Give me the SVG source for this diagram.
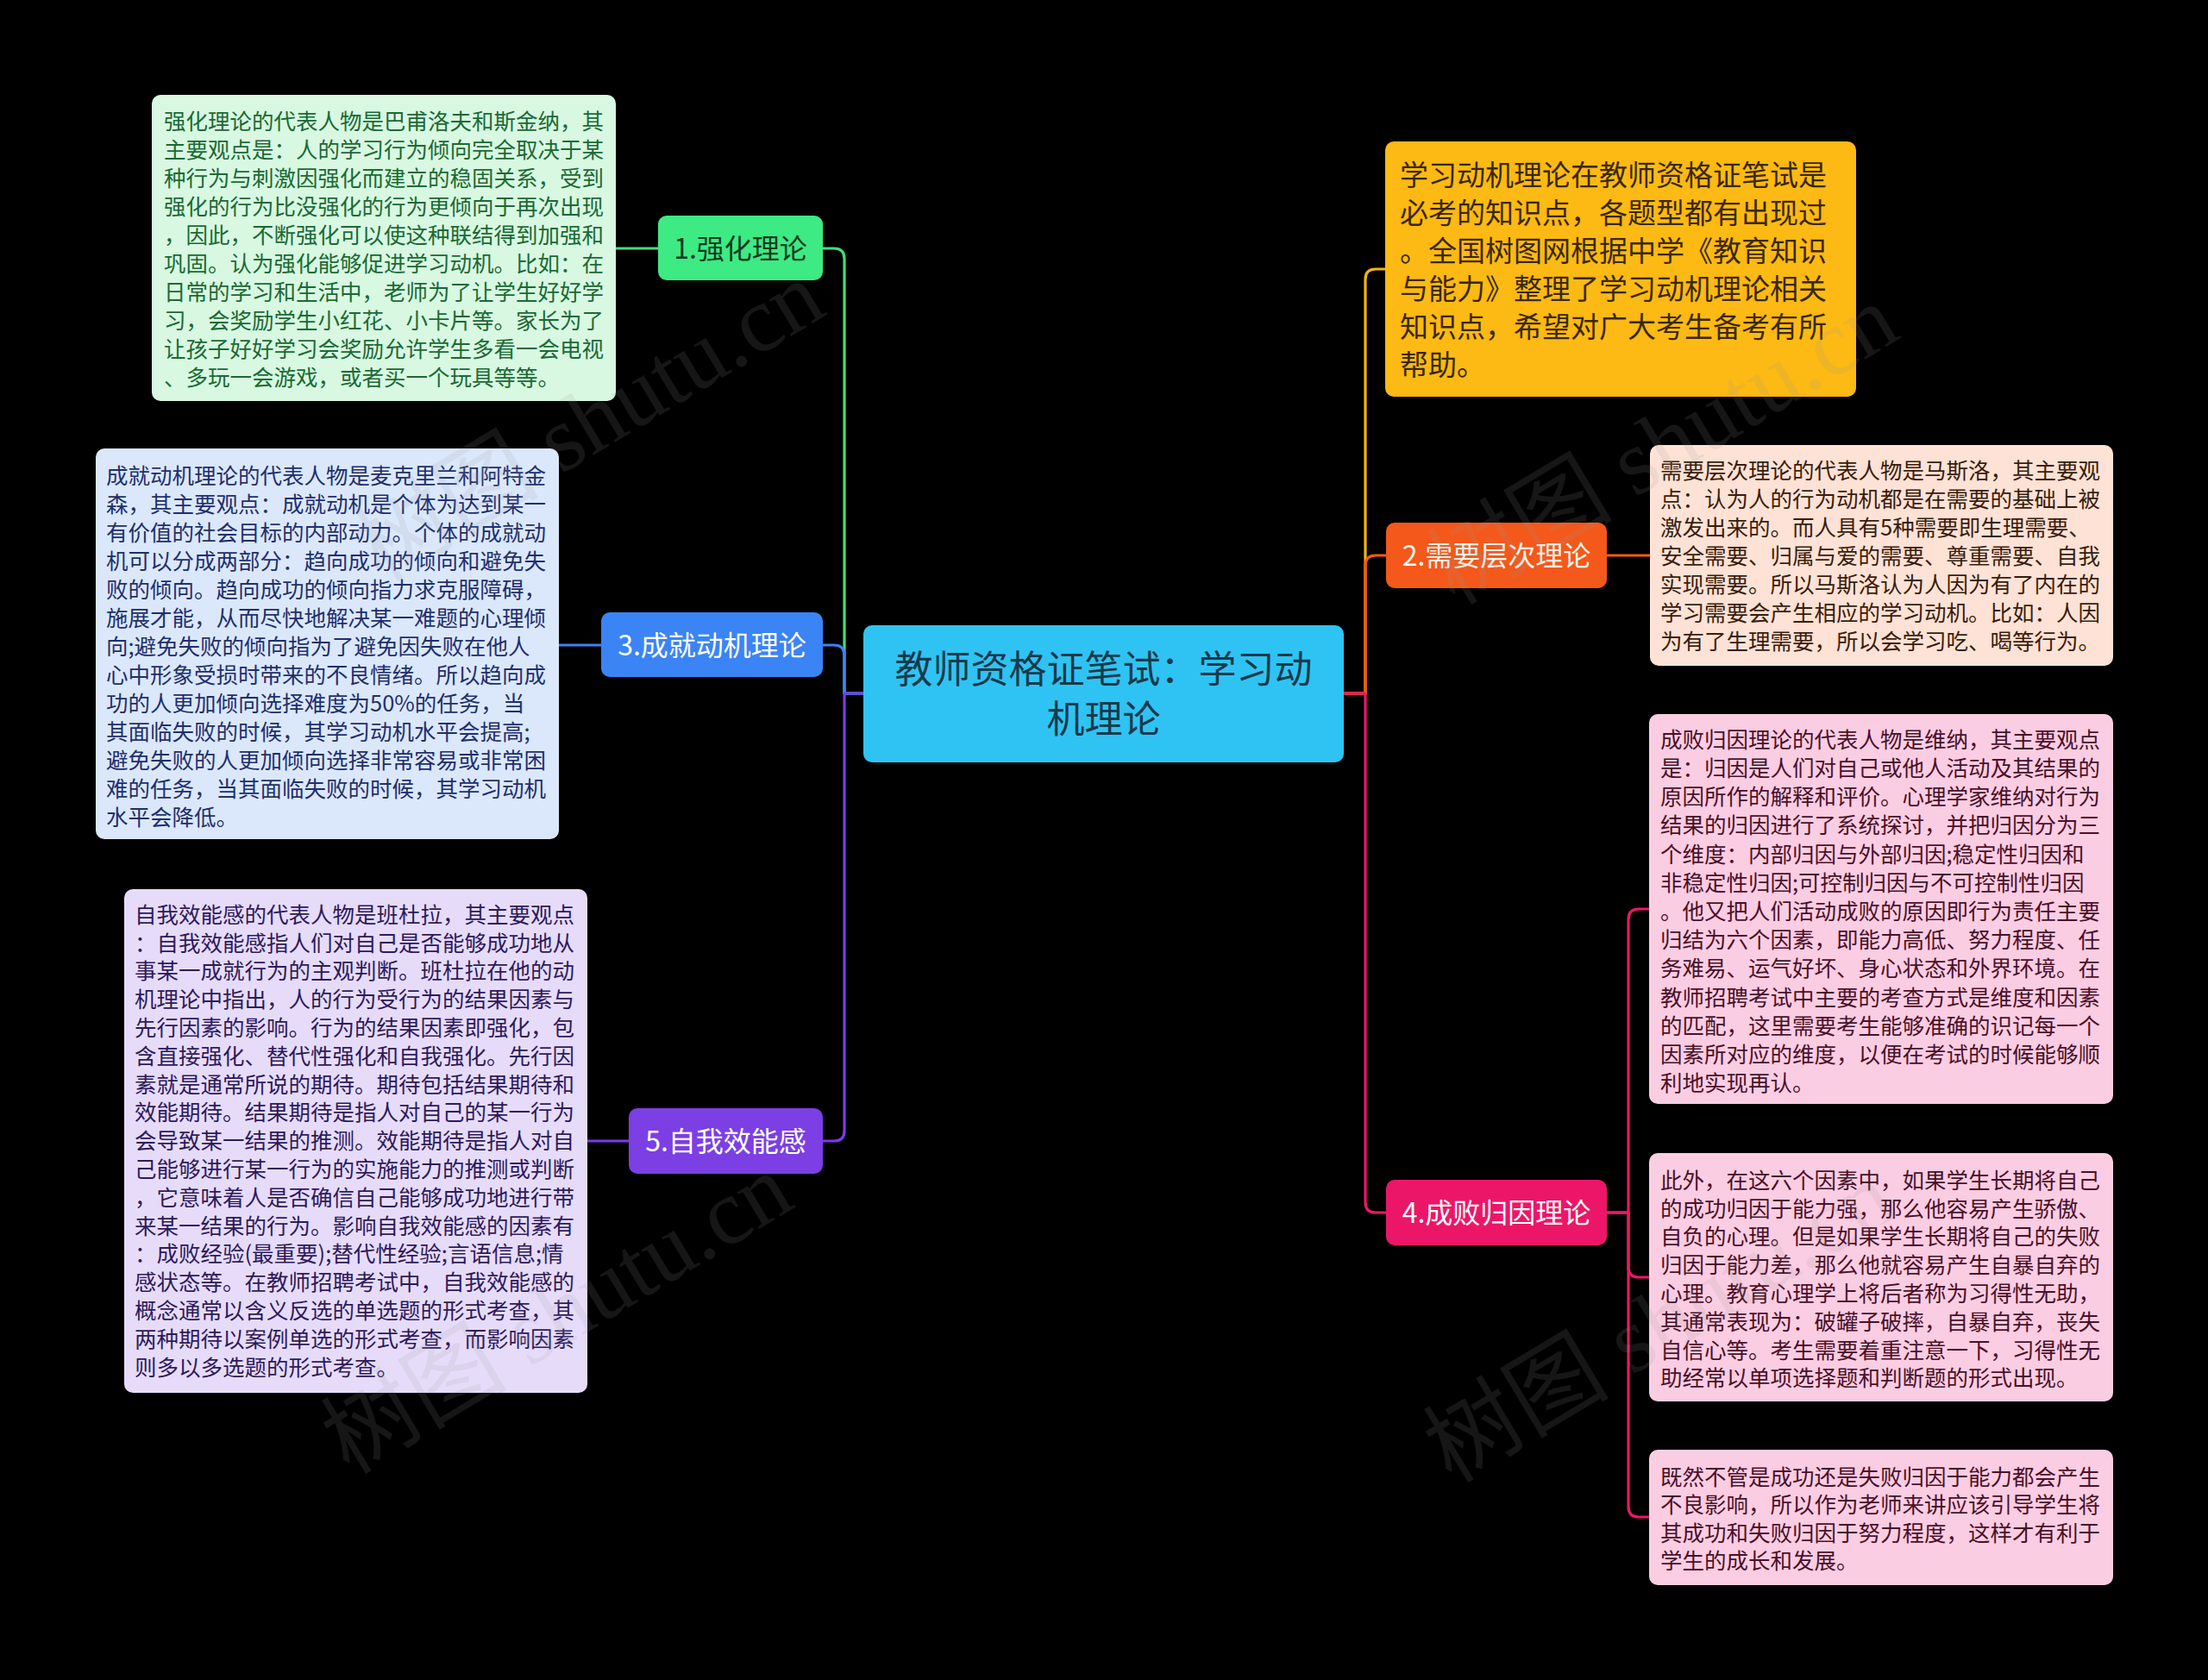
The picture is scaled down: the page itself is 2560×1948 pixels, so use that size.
<svg xmlns="http://www.w3.org/2000/svg" width="2560" height="1948" viewBox="0 0 2560 1948">
<defs>
<style>
.conn{fill:none;stroke-width:3.2;stroke-linecap:round;stroke-linejoin:round}
text{font-family:'Noto Sans CJK SC','Noto Sans',sans-serif}
.t{font-size:25.5px}
.lbl{font-size:32px;text-anchor:middle}
.wm{font-family:'Liberation Serif','Noto Sans CJK SC',serif;font-size:108px;fill:#9a9a9a;opacity:0.14;text-anchor:middle}
</style>
</defs>
<rect x="0" y="0" width="2560" height="1948" fill="#000000"/>

<g id="connectors">
<path class="conn" stroke="#3ee07c" d="M1001,804 H979 V300 Q979,288 967,288 H954"/>
<path class="conn" stroke="#3b82f6" d="M1001,804 H979 V760 Q979,748 967,748 H954"/>
<path class="conn" stroke="#7c3aed" d="M1001,804 H979 V1311 Q979,1323 967,1323 H954"/>
<path class="conn" stroke="#f6b50e" d="M1558,804 H1583 V324 Q1583,312 1595,312 H1606"/>
<path class="conn" stroke="#f45a17" d="M1558,804 H1583 V656 Q1583,644 1595,644 H1607"/>
<path class="conn" stroke="#ec1769" d="M1558,804 H1583 V1394 Q1583,1406 1595,1406 H1607"/>
<path class="conn" stroke="#3ee07c" d="M763,288 H714"/>
<path class="conn" stroke="#3b82f6" d="M697,748 H648"/>
<path class="conn" stroke="#7c3aed" d="M729,1323 H681"/>
<path class="conn" stroke="#f45a17" d="M1863,644 H1913"/>
<path class="conn" stroke="#ec1769" d="M1863,1406 H1888 V1066 Q1888,1054 1900,1054 H1912"/>
<path class="conn" stroke="#ec1769" d="M1863,1406 H1888 V1469 Q1888,1481 1900,1481 H1912"/>
<path class="conn" stroke="#ec1769" d="M1863,1406 H1888 V1747 Q1888,1759 1900,1759 H1912"/>
</g>

<g id="node-root">
<rect x="1001" y="725" width="557" height="159" rx="10" fill="#2fc3f3"/>
<text font-size="44" fill="#173a4b" text-anchor="middle"><tspan x="1279.5" y="792">教师资格证笔试：学习动</tspan><tspan x="1279.5" y="850">机理论</tspan></text>
</g>

<g id="node-1">
<rect x="763" y="250" width="191" height="75" rx="10" fill="#3eea83"/>
<text class="lbl" fill="#0f3a1f" x="858.5" y="300">1.强化理论</text>
</g>
<g id="node-1-text">
<rect x="176" y="110" width="538" height="355" rx="10" fill="#d8f8e2"/>
<text class="t" fill="#1a6a33">
<tspan x="190" y="149.7">强化理论的代表人物是巴甫洛夫和斯金纳，其</tspan>
<tspan x="190" y="182.7">主要观点是：人的学习行为倾向完全取决于某</tspan>
<tspan x="190" y="215.7">种行为与刺激因强化而建立的稳固关系，受到</tspan>
<tspan x="190" y="248.7">强化的行为比没强化的行为更倾向于再次出现</tspan>
<tspan x="190" y="281.7">，因此，不断强化可以使这种联结得到加强和</tspan>
<tspan x="190" y="314.7">巩固。认为强化能够促进学习动机。比如：在</tspan>
<tspan x="190" y="347.7">日常的学习和生活中，老师为了让学生好好学</tspan>
<tspan x="190" y="380.7">习，会奖励学生小红花、小卡片等。家长为了</tspan>
<tspan x="190" y="413.7">让孩子好好学习会奖励允许学生多看一会电视</tspan>
<tspan x="190" y="446.7">、多玩一会游戏，或者买一个玩具等等。</tspan>
</text>
</g>

<g id="node-3">
<rect x="697" y="710" width="257" height="75" rx="10" fill="#3b84f5"/>
<text class="lbl" fill="#ffffff" x="825.5" y="760">3.成就动机理论</text>
</g>
<g id="node-3-text">
<rect x="111" y="520" width="537" height="453" rx="10" fill="#dbe8fb"/>
<text class="t" fill="#1f2f6e">
<tspan x="123" y="561.4">成就动机理论的代表人物是麦克里兰和阿特金</tspan>
<tspan x="123" y="594.4">森，其主要观点：成就动机是个体为达到某一</tspan>
<tspan x="123" y="627.4">有价值的社会目标的内部动力。个体的成就动</tspan>
<tspan x="123" y="660.4">机可以分成两部分：趋向成功的倾向和避免失</tspan>
<tspan x="123" y="693.4">败的倾向。趋向成功的倾向指力求克服障碍，</tspan>
<tspan x="123" y="726.4">施展才能，从而尽快地解决某一难题的心理倾</tspan>
<tspan x="123" y="759.4">向;避免失败的倾向指为了避免因失败在他人</tspan>
<tspan x="123" y="792.4">心中形象受损时带来的不良情绪。所以趋向成</tspan>
<tspan x="123" y="825.4">功的人更加倾向选择难度为50%的任务，当</tspan>
<tspan x="123" y="858.4">其面临失败的时候，其学习动机水平会提高;</tspan>
<tspan x="123" y="891.4">避免失败的人更加倾向选择非常容易或非常困</tspan>
<tspan x="123" y="924.4">难的任务，当其面临失败的时候，其学习动机</tspan>
<tspan x="123" y="957.4">水平会降低。</tspan>
</text>
</g>

<g id="node-5">
<rect x="729" y="1285" width="225" height="76" rx="10" fill="#7b3fe4"/>
<text class="lbl" fill="#ffffff" x="841.5" y="1335">5.自我效能感</text>
</g>
<g id="node-5-text">
<rect x="144" y="1031" width="537" height="584" rx="10" fill="#e6dcfa"/>
<text class="t" fill="#2e1a5c">
<tspan x="156" y="1069.7">自我效能感的代表人物是班杜拉，其主要观点</tspan>
<tspan x="156" y="1102.5">：自我效能感指人们对自己是否能够成功地从</tspan>
<tspan x="156" y="1135.3">事某一成就行为的主观判断。班杜拉在他的动</tspan>
<tspan x="156" y="1168.1">机理论中指出，人的行为受行为的结果因素与</tspan>
<tspan x="156" y="1200.9">先行因素的影响。行为的结果因素即强化，包</tspan>
<tspan x="156" y="1233.7">含直接强化、替代性强化和自我强化。先行因</tspan>
<tspan x="156" y="1266.5">素就是通常所说的期待。期待包括结果期待和</tspan>
<tspan x="156" y="1299.3">效能期待。结果期待是指人对自己的某一行为</tspan>
<tspan x="156" y="1332.1">会导致某一结果的推测。效能期待是指人对自</tspan>
<tspan x="156" y="1364.9">己能够进行某一行为的实施能力的推测或判断</tspan>
<tspan x="156" y="1397.7">，它意味着人是否确信自己能够成功地进行带</tspan>
<tspan x="156" y="1430.5">来某一结果的行为。影响自我效能感的因素有</tspan>
<tspan x="156" y="1463.3">：成败经验(最重要);替代性经验;言语信息;情</tspan>
<tspan x="156" y="1496.1">感状态等。在教师招聘考试中，自我效能感的</tspan>
<tspan x="156" y="1528.9">概念通常以含义反选的单选题的形式考查，其</tspan>
<tspan x="156" y="1561.7">两种期待以案例单选的形式考查，而影响因素</tspan>
<tspan x="156" y="1594.5">则多以多选题的形式考查。</tspan>
</text>
</g>

<g id="node-intro">
<rect x="1606" y="164" width="546" height="296" rx="10" fill="#fdb914"/>
<text font-size="33" fill="#3a2800">
<tspan x="1623" y="215">学习动机理论在教师资格证笔试是</tspan>
<tspan x="1623" y="259">必考的知识点，各题型都有出现过</tspan>
<tspan x="1623" y="303">。全国树图网根据中学《教育知识</tspan>
<tspan x="1623" y="347">与能力》整理了学习动机理论相关</tspan>
<tspan x="1623" y="391">知识点，希望对广大考生备考有所</tspan>
<tspan x="1623" y="435">帮助。</tspan>
</text>
</g>

<g id="node-2">
<rect x="1607" y="606" width="256" height="76" rx="10" fill="#f4581a"/>
<text class="lbl" fill="#fff5ec" x="1735" y="656">2.需要层次理论</text>
</g>
<g id="node-2-text">
<rect x="1913" y="516" width="537" height="256" rx="10" fill="#fde2d5"/>
<text class="t" fill="#3a1c0c">
<tspan x="1925" y="554.7">需要层次理论的代表人物是马斯洛，其主要观</tspan>
<tspan x="1925" y="587.7">点：认为人的行为动机都是在需要的基础上被</tspan>
<tspan x="1925" y="620.7">激发出来的。而人具有5种需要即生理需要、</tspan>
<tspan x="1925" y="653.7">安全需要、归属与爱的需要、尊重需要、自我</tspan>
<tspan x="1925" y="686.7">实现需要。所以马斯洛认为人因为有了内在的</tspan>
<tspan x="1925" y="719.7">学习需要会产生相应的学习动机。比如：人因</tspan>
<tspan x="1925" y="752.7">为有了生理需要，所以会学习吃、喝等行为。</tspan>
</text>
</g>

<g id="node-4">
<rect x="1607" y="1368" width="256" height="76" rx="10" fill="#ec1668"/>
<text class="lbl" fill="#ffffff" x="1735" y="1418">4.成败归因理论</text>
</g>
<g id="node-4-text-1">
<rect x="1912" y="828" width="538" height="452" rx="10" fill="#fbcde2"/>
<text class="t" fill="#4a1028">
<tspan x="1925" y="866.7">成败归因理论的代表人物是维纳，其主要观点</tspan>
<tspan x="1925" y="899.9">是：归因是人们对自己或他人活动及其结果的</tspan>
<tspan x="1925" y="933.1">原因所作的解释和评价。心理学家维纳对行为</tspan>
<tspan x="1925" y="966.3">结果的归因进行了系统探讨，并把归因分为三</tspan>
<tspan x="1925" y="999.5">个维度：内部归因与外部归因;稳定性归因和</tspan>
<tspan x="1925" y="1032.7">非稳定性归因;可控制归因与不可控制性归因</tspan>
<tspan x="1925" y="1065.9">。他又把人们活动成败的原因即行为责任主要</tspan>
<tspan x="1925" y="1099.1">归结为六个因素，即能力高低、努力程度、任</tspan>
<tspan x="1925" y="1132.3">务难易、运气好坏、身心状态和外界环境。在</tspan>
<tspan x="1925" y="1165.5">教师招聘考试中主要的考查方式是维度和因素</tspan>
<tspan x="1925" y="1198.7">的匹配，这里需要考生能够准确的识记每一个</tspan>
<tspan x="1925" y="1231.9">因素所对应的维度，以便在考试的时候能够顺</tspan>
<tspan x="1925" y="1265.1">利地实现再认。</tspan>
</text>
</g>
<g id="node-4-text-2">
<rect x="1912" y="1337" width="538" height="288" rx="10" fill="#fbcde2"/>
<text class="t" fill="#4a1028">
<tspan x="1925" y="1377.7">此外，在这六个因素中，如果学生长期将自己</tspan>
<tspan x="1925" y="1410.5">的成功归因于能力强，那么他容易产生骄傲、</tspan>
<tspan x="1925" y="1443.3">自负的心理。但是如果学生长期将自己的失败</tspan>
<tspan x="1925" y="1476.1">归因于能力差，那么他就容易产生自暴自弃的</tspan>
<tspan x="1925" y="1508.9">心理。教育心理学上将后者称为习得性无助，</tspan>
<tspan x="1925" y="1541.7">其通常表现为：破罐子破摔，自暴自弃，丧失</tspan>
<tspan x="1925" y="1574.5">自信心等。考生需要着重注意一下，习得性无</tspan>
<tspan x="1925" y="1607.3">助经常以单项选择题和判断题的形式出现。</tspan>
</text>
</g>
<g id="node-4-text-3">
<rect x="1912" y="1681" width="538" height="157" rx="10" fill="#fbcde2"/>
<text class="t" fill="#4a1028">
<tspan x="1925" y="1721.7">既然不管是成功还是失败归因于能力都会产生</tspan>
<tspan x="1925" y="1754.2">不良影响，所以作为老师来讲应该引导学生将</tspan>
<tspan x="1925" y="1786.7">其成功和失败归因于努力程度，这样才有利于</tspan>
<tspan x="1925" y="1819.2">学生的成长和发展。</tspan>
</text>
</g>

<g id="watermarks">
<text class="wm" x="682" y="525" transform="rotate(-31 682 487)">树图 shutu.cn</text>
<text class="wm" x="1927" y="552" transform="rotate(-31 1927 514)">树图 shutu.cn</text>
<text class="wm" x="645" y="1560" transform="rotate(-31 645 1522)">树图 shutu.cn</text>
<text class="wm" x="1923" y="1570" transform="rotate(-31 1923 1532)">树图 shutu.cn</text>
</g>
</svg>
